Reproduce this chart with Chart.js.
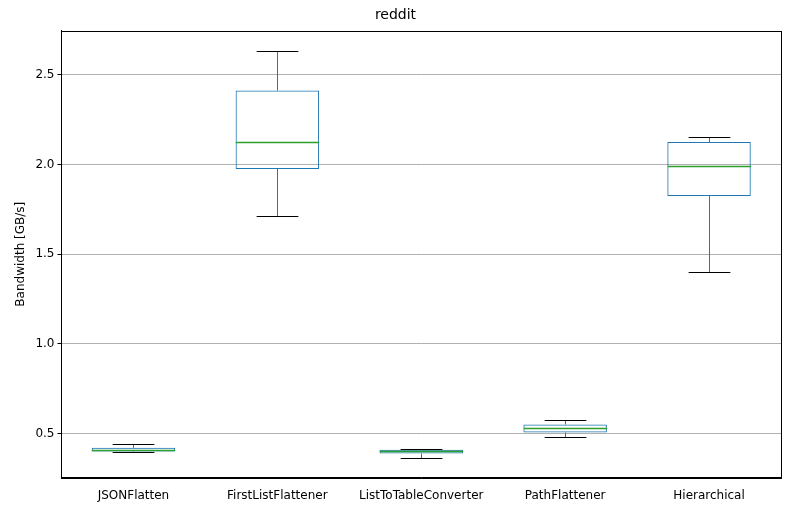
<!DOCTYPE html>
<html><head><script src="https://cdn.jsdelivr.net/npm/chart.js@4"></script>
<style>body{margin:0;background:#fff}#w{width:790px;height:512px}</style></head>
<body><div id="w"><canvas id="c"></canvas></div>
<script>
const categories=["JSONFlatten","FirstListFlattener","ListToTableConverter","PathFlattener","Hierarchical"];
const mins=[0.394,1.715,0.366,0.478,1.40];
const q1s=[0.40,1.975,0.388,0.505,1.824];
const medians=[0.41,2.128,0.40,0.528,1.99];
const q3s=[0.42,2.413,0.41,0.55,2.126];
const maxs=[0.439,2.634,0.416,0.578,2.151];
const yTicks=[0.5,1.0,1.5,2.0,2.5];

const r=v=>Math.round(v)+0.5;
const boxPlugin={id:'box',afterDatasetsDraw(chart){
 const ctx=chart.ctx,y=chart.scales.y,meta=chart.getDatasetMeta(0);
 ctx.save();ctx.lineWidth=1;
 meta.data.forEach((b,i)=>{
  const x=r(b.x),w=b.width,pMin=r(y.getPixelForValue(mins[i])),pMax=r(y.getPixelForValue(maxs[i]));
  const pq1=y.getPixelForValue(q1s[i]),pq3=y.getPixelForValue(q3s[i]),pm=r(y.getPixelForValue(medians[i]));
  ctx.strokeStyle='#1f77b4';ctx.beginPath();
  ctx.moveTo(x,pq1);ctx.lineTo(x,pMin);ctx.moveTo(x,pq3);ctx.lineTo(x,pMax);ctx.stroke();
  ctx.strokeStyle='#000';ctx.beginPath();
  ctx.moveTo(x-w/4,pMin);ctx.lineTo(x+w/4,pMin);ctx.moveTo(x-w/4,pMax);ctx.lineTo(x+w/4,pMax);ctx.stroke();
  ctx.strokeStyle='#2ca02c';ctx.lineWidth=1.3;ctx.beginPath();ctx.moveTo(x-w/2,pm);ctx.lineTo(x+w/2,pm);ctx.stroke();ctx.lineWidth=1;
 });
 const a=chart.chartArea;ctx.strokeStyle='#000';ctx.strokeRect(r(a.left),r(a.top),Math.round(a.right-a.left),Math.round(a.bottom-a.top));
 ctx.restore();}};

new Chart(document.getElementById('c'),{type:'bar',
 data:{labels:categories,datasets:[{data:q1s.map((q,i)=>[q,q3s[i]]),backgroundColor:'rgba(255,255,255,0)',borderColor:'#1f77b4',borderWidth:1,borderSkipped:false,barPercentage:0.58,categoryPercentage:1}]},
 options:{responsive:true,maintainAspectRatio:false,animation:false,
  layout:{padding:{left:10,right:9,top:7,bottom:6}},
  plugins:{legend:{display:false},tooltip:{enabled:false},
   title:{display:true,text:'reddit',color:'#000',font:{family:'DejaVu Sans',size:14,weight:'normal'},padding:{top:0,bottom:7}}},
  scales:{
   x:{grid:{display:false},border:{color:'#000'},ticks:{color:'#000',font:{family:'DejaVu Sans',size:12}}},
   y:{min:0.254,max:2.746,border:{color:'#000'},
    afterBuildTicks(s){s.ticks=yTicks.map(v=>({value:v}));},
    grid:{color:'#b0b0b0',drawTicks:true,tickColor:'#000',tickLength:4},
    ticks:{color:'#000',font:{family:'DejaVu Sans',size:12},callback:v=>v.toFixed(1)},
    title:{display:true,text:'Bandwidth [GB/s]',color:'#000',font:{family:'DejaVu Sans',size:12}}}}},
 plugins:[boxPlugin]});
</script></body></html>
